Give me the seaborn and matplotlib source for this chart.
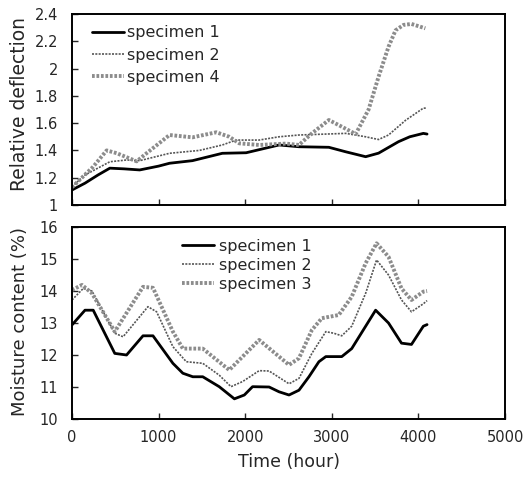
import numpy as np
import pandas as pd
import matplotlib
matplotlib.use("Agg")
import matplotlib.pyplot as plt
import seaborn as sns

# ---------------- data ----------------
# Top panel: relative deflection
def_s1_hours = [0, 150, 300, 437, 600, 782, 1000, 1126, 1391, 1736, 2011, 2391,
                2621, 2966, 3161, 3391, 3540, 3770, 3900, 4057, 4100]
def_s1_vals = [1.11, 1.16, 1.22, 1.27, 1.265, 1.257, 1.285, 1.306, 1.325, 1.379,
               1.383, 1.44, 1.427, 1.423, 1.39, 1.354, 1.38, 1.464, 1.50, 1.525, 1.52]

def_s2_hours = [0, 150, 437, 632, 782, 1126, 1471, 1736, 1896, 2161, 2391, 2621,
                3161, 3391, 3540, 3655, 3850, 4057, 4100]
def_s2_vals = [1.134, 1.22, 1.317, 1.33, 1.325, 1.379, 1.40, 1.44, 1.476, 1.476,
               1.50, 1.513, 1.525, 1.50, 1.48, 1.513, 1.62, 1.71, 1.71]

def_s4_hours = [0, 244, 400, 515, 747, 862, 1126, 1391, 1667, 1816, 1931, 2161,
                2471, 2621, 2770, 2966, 3115, 3276, 3425, 3540, 3655, 3736, 3828,
                3920, 4080]
def_s4_vals = [1.13, 1.28, 1.40, 1.38, 1.32, 1.38, 1.513, 1.496, 1.533, 1.50,
               1.452, 1.44, 1.45, 1.44, 1.525, 1.623, 1.574, 1.52, 1.70, 1.94,
               2.16, 2.28, 2.32, 2.327, 2.295]

# Bottom panel: moisture content (%)
mc_s1_hours = [0, 150, 245, 494, 630, 820, 935, 1165, 1280, 1395, 1510, 1700, 1875,
               1990, 2085, 2276, 2391, 2506, 2621, 2736, 2851, 2931, 3115, 3230,
               3391, 3506, 3655, 3805, 3920, 4057, 4100]
mc_s1_vals = [12.94, 13.4, 13.4, 12.05, 12.0, 12.6, 12.6, 11.74, 11.43, 11.32,
              11.32, 11.01, 10.63, 10.75, 11.01, 11.0, 10.85, 10.75, 10.9, 11.32,
              11.79, 11.95, 11.95, 12.2, 12.9, 13.4, 13.0, 12.37, 12.33, 12.9, 12.95]

mc_s2_hours = [0, 130, 230, 494, 590, 877, 977, 1165, 1320, 1510, 1700, 1836, 1970,
               2161, 2276, 2506, 2621, 2770, 2931, 3023, 3115, 3230, 3391, 3517,
               3655, 3805, 3920, 4057, 4100]
mc_s2_vals = [13.72, 14.08, 14.0, 12.68, 12.57, 13.51, 13.35, 12.26, 11.79, 11.74,
              11.37, 11.01, 11.17, 11.51, 11.5, 11.1, 11.27, 12.05, 12.73, 12.68,
              12.6, 12.9, 13.93, 14.97, 14.5, 13.72, 13.35, 13.6, 13.7]

mc_s3_hours = [0, 115, 230, 494, 820, 935, 1165, 1280, 1510, 1816, 2161, 2506,
               2621, 2770, 2885, 3080, 3230, 3391, 3517, 3655, 3805, 3920, 4057, 4100]
mc_s3_vals = [14.03, 14.19, 13.93, 12.73, 14.13, 14.1, 12.73, 12.2, 12.2, 11.53,
              12.47, 11.69, 11.9, 12.78, 13.15, 13.25, 13.82, 14.87, 15.49, 15.07,
              14.08, 13.72, 13.98, 14.0]

top_labels = ["specimen 1", "specimen 2", "specimen 4"]
bot_labels = ["specimen 1", "specimen 2", "specimen 3"]
x_ticks = [0, 1000, 2000, 3000, 4000, 5000]
top_yticks = [1, 1.2, 1.4, 1.6, 1.8, 2, 2.2, 2.4]
bot_yticks = [10, 11, 12, 13, 14, 15, 16]

# ---------------- style ----------------
sns.set_style("ticks")
plt.rcParams["font.family"] = ["DejaVu Sans"]

styles = [
    dict(color="black", lw=2.0, ls="-"),
    dict(color="#555555", lw=1.2, ls=(0, (1.2, 0.8))),
    dict(color="#8c8c8c", lw=2.8, ls=(0, (0.7, 0.45))),
]

fig = plt.figure(figsize=(5.31, 4.8), dpi=100)
ax1 = fig.add_axes([72 / 531, 1 - 205 / 480, 433 / 531, 191 / 480])
ax2 = fig.add_axes([72 / 531, 1 - 419 / 480, 433 / 531, 192 / 480])

top_series = [(def_s1_hours, def_s1_vals), (def_s2_hours, def_s2_vals),
              (def_s4_hours, def_s4_vals)]
bot_series = [(mc_s1_hours, mc_s1_vals), (mc_s2_hours, mc_s2_vals),
              (mc_s3_hours, mc_s3_vals)]

for ax, series, labels in [(ax1, top_series, top_labels), (ax2, bot_series, bot_labels)]:
    for (h, v), lab, st in zip(series, labels, styles):
        df = pd.DataFrame({"hour": h, "val": v})
        sns.lineplot(data=df, x="hour", y="val", ax=ax, label=lab,
                     color=st["color"], linewidth=st["lw"], linestyle=st["ls"],
                     estimator=None, sort=False)

for ax in (ax1, ax2):
    ax.set_xlim(0, 5000)
    ax.set_xticks(x_ticks)
    for sp in ax.spines.values():
        sp.set_visible(True)
        sp.set_linewidth(1.4)
        sp.set_color("black")
    ax.tick_params(direction="in", length=4, width=1, labelsize=10.5,
                   top=False, right=False)
    ax.set_xlabel("")
    ax.set_ylabel("")

ax1.set_ylim(1, 2.4)
ax1.set_yticks(top_yticks)
ax1.set_yticklabels(["1", "1.2", "1.4", "1.6", "1.8", "2", "2.2", "2.4"])
ax1.tick_params(axis="x", labelbottom=False)
ax1.tick_params(axis="y", pad=10)

ax2.set_ylim(10, 16)
ax2.set_yticks(bot_yticks)
ax2.tick_params(axis="y", pad=10)
ax2.tick_params(axis="x", pad=8)

ax1.set_ylabel("Relative deflection", fontsize=13.5)
ax1.yaxis.set_label_coords(-0.10, 0.53)
ax2.set_ylabel("Moisture content (%)", fontsize=13)
ax2.yaxis.set_label_coords(-0.10, 0.51)
ax2.set_xlabel("Time (hour)", fontsize=12.5, labelpad=6)

leg1 = ax1.legend(loc="upper left", bbox_to_anchor=(0.046, 0.94), frameon=False,
                  fontsize=11.5, handlelength=2.0, handletextpad=0.2,
                  borderpad=0, borderaxespad=0, labelspacing=0.45)
leg2 = ax2.legend(loc="upper left", bbox_to_anchor=(0.254, 0.94), frameon=False,
                  fontsize=11.5, handlelength=2.0, handletextpad=0.3,
                  borderpad=0, borderaxespad=0, labelspacing=0.25)

fig.savefig("out.png", dpi=100)
